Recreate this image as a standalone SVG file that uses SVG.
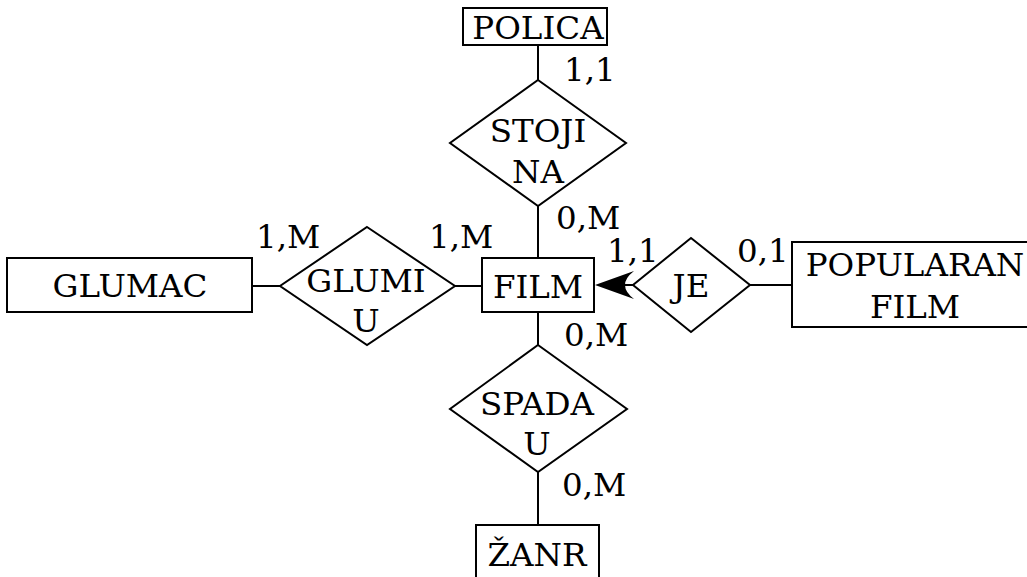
<svg xmlns="http://www.w3.org/2000/svg" width="1027" height="577" viewBox="0 0 1027 577">
<style>
.s{fill:#fff;stroke:#000;stroke-width:2}
.l{stroke:#000;stroke-width:2;fill:none}
text{font-family:"DejaVu Serif","Liberation Serif",serif;font-size:32.5px;fill:#000}
.c{text-anchor:middle}
</style>
<rect width="1027" height="577" fill="#fff"/>
<g id="connectors">
<line class="l" x1="538" y1="45" x2="538" y2="80"/>
<line class="l" x1="538" y1="206" x2="538" y2="258"/>
<line class="l" x1="252" y1="286" x2="280" y2="286"/>
<line class="l" x1="455" y1="286" x2="482" y2="286"/>
<line class="l" x1="750" y1="285" x2="792" y2="285"/>
<line class="l" x1="538" y1="312" x2="538" y2="345"/>
<line class="l" x1="538" y1="472" x2="538" y2="525"/>
<line class="l" x1="633" y1="285" x2="615" y2="285"/>
<path d="M595,285 L634,271 Q616,285 634,299 Z" fill="#000"/>
</g>
<g id="polica"><rect class="s" x="463" y="8" width="144" height="37"/><text class="c" x="538" y="39">POLICA</text></g>
<g id="stojina"><polygon class="s" points="538,80 626,143 538,206 450,143"/><text class="c" x="538" y="142">STOJI</text><text class="c" x="538" y="183">NA</text></g>
<g id="glumac"><rect class="s" x="7" y="258" width="245" height="54"/><text class="c" x="130" y="297">GLUMAC</text></g>
<g id="glumiu"><polygon class="s" points="367,227 455,286 367,345 280,286"/><text class="c" x="366" y="292">GLUMI</text><text class="c" x="366" y="332">U</text></g>
<g id="film"><rect class="s" x="482" y="258" width="112" height="54"/><text class="c" x="538" y="298">FILM</text></g>
<g id="je"><polygon class="s" points="691,238 750,285 691,332 633,285"/><text class="c" x="691" y="297">JE</text></g>
<g id="popularan"><rect class="s" x="792" y="242" width="250" height="85"/><text class="c" x="915" y="276">POPULARAN</text><text class="c" x="915" y="318">FILM</text></g>
<g id="spadau"><polygon class="s" points="538,345 627,409 538,472 450,409"/><text class="c" x="537" y="415">SPADA</text><text class="c" x="537" y="455">U</text></g>
<g id="zanr"><rect class="s" x="476" y="525" width="123" height="60"/><text class="c" x="537" y="566">ŽANR</text></g>
<g id="labels">
<text x="564" y="81">1,1</text>
<text x="556" y="229">0,M</text>
<text x="256" y="248">1,M</text>
<text x="429" y="248">1,M</text>
<text x="607" y="262">1,1</text>
<text x="737" y="262">0,1</text>
<text x="564" y="346">0,M</text>
<text x="562" y="496">0,M</text>
</g>
</svg>
